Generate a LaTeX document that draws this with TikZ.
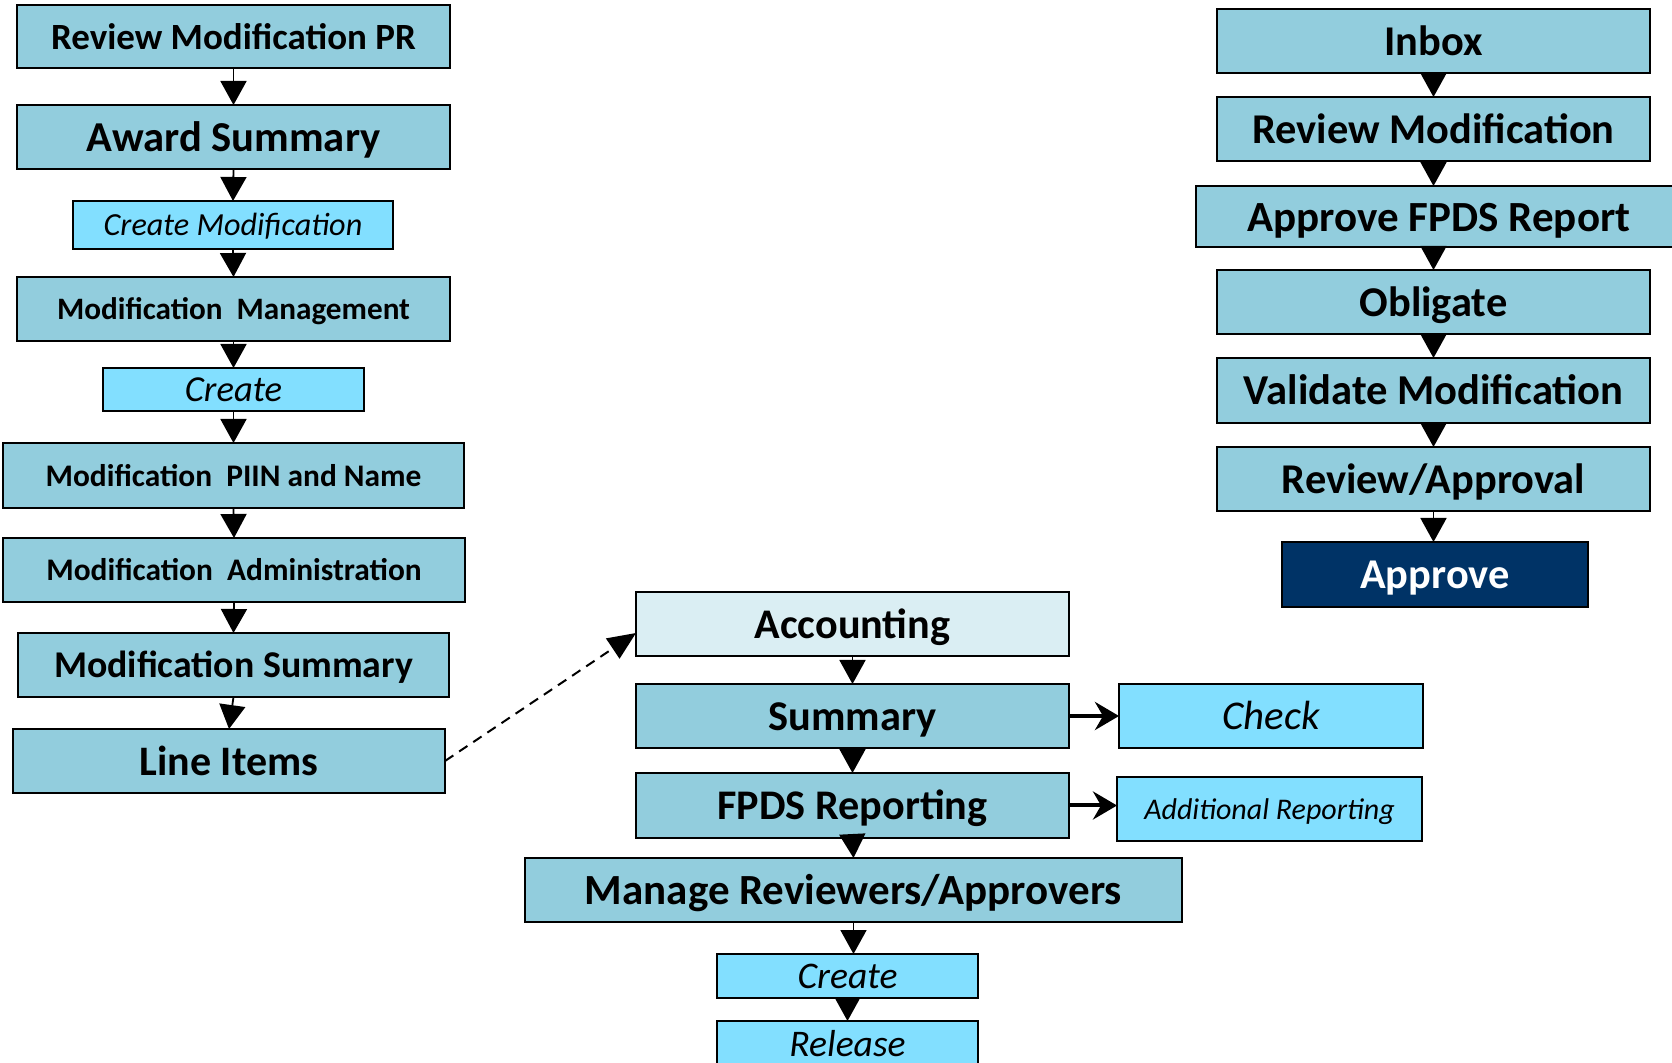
\documentclass[tikz,border=0pt]{standalone}
\usepackage{fontspec}
\setmainfont{Carlito}
\usetikzlibrary{arrows.meta}
\definecolor{mainc}{RGB}{146,205,221}
\definecolor{cyanc}{RGB}{130,223,255}
\definecolor{accc}{RGB}{218,238,243}
\definecolor{navyc}{RGB}{0,51,102}
\newcommand\fs[1]{\fontsize{#1}{#1}\selectfont}
\newcommand\T[1]{\rule{0pt}{0.68em}\smash{#1}}
\newcommand\bx[7]{\node[#6, minimum width={(#4-#2)*0.5pt}, minimum height={(#5-#3)*0.5pt}] (#1) at ({(#2+#4)/2},{(#3+#5)/2}) {\T{#7}};}
\begin{document}
\begin{tikzpicture}[x=0.5pt,y=-0.5pt,
  base/.style={draw=black, line width=1pt, inner sep=0pt, outer sep=0pt},
  mb/.style={base, fill=mainc, font=\fs{#1}\bfseries},
  lb/.style={base, fill=accc, font=\fs{#1}\bfseries},
  nb/.style={base, fill=navyc, text=white, font=\fs{#1}\bfseries},
  cb/.style={base, fill=cyanc, font=\fs{#1}\itshape},
  dn/.style={-{Triangle[width=13pt,length=12pt]}, line width=0.9pt},
  rt/.style={-{Stealth[length=12pt,width=14pt,inset=4pt]}, line width=2pt},
  dsh/.style={-{Triangle[width=12pt,length=14pt]}, line width=1pt, dash pattern=on 5pt off 3.5pt}]
\useasboundingbox (0,0) rectangle (1672,1063);
% left column
\bx{rmpr}{17}{5}{450}{68}{mb=18.5}{Review Modification PR}
\bx{award}{17}{105}{450}{169}{mb=21.3}{Award Summary}
\bx{cmod}{73}{201}{393}{249}{cb=16.1}{Create Modification}
\bx{mgmt}{17}{277}{450}{341}{mb=15.6}{Modification\ \ Management}
\bx{crone}{103}{368}{364}{411}{cb=18.3}{Create}
\bx{piin}{3}{443}{464}{508}{mb=15.7}{Modification\ \ PIIN and Name}
\bx{admin}{3}{538}{465}{602}{mb=15.7}{Modification\ \ Administration}
\bx{msum}{18}{633}{449}{697}{mb=18.9}{Modification Summary}
\bx{litems}{13}{729}{445}{793}{mb=21}{Line Items}
% middle column
\bx{acc}{636}{592}{1069}{656}{lb=21.1}{Accounting}
\bx{summ}{636}{684}{1069}{748}{mb=21.2}{Summary}
\bx{fpds}{636}{773}{1069}{838}{mb=21.1}{FPDS Reporting}
\bx{manage}{525}{858}{1182}{922}{mb=21.5}{Manage Reviewers/Approvers}
\bx{crtwo}{717}{954}{978}{998}{cb=18.8}{Create}
\bx{release}{717}{1021}{978}{1067}{cb=18.8}{Release}
\bx{check}{1119}{684}{1423}{748}{cb=20.4}{Check}
\bx{addrep}{1117}{777}{1422}{841}{cb=15}{Additional Reporting}
% right column
\bx{inbox}{1217}{9}{1650}{73}{mb=21.2}{Inbox}
\bx{revmod}{1217}{97}{1650}{161}{mb=21.2}{Review Modification}
\bx{apfpds}{1196}{186}{1682}{247}{mb=21.5}{Approve FPDS Report}
\bx{oblig}{1217}{270}{1650}{334}{mb=21.2}{Obligate}
\bx{valid}{1217}{358}{1650}{423}{mb=21.3}{Validate Modification}
\bx{revapp}{1217}{447}{1650}{511}{mb=21.2}{Review/Approval}
\bx{approve}{1282}{542}{1588}{607}{nb=21.2}{Approve}
% connectors left
\draw[dn] (rmpr.south) -- (award.north);
\draw[dn] (award.south) -- (cmod.north);
\draw[dn] (cmod.south) -- (mgmt.north);
\draw[dn] (mgmt.south) -- (crone.north);
\draw[dn] (crone.south) -- (piin.north);
\draw[dn] (piin.south) -- (admin.north);
\draw[dn] (admin.south) -- (msum.north);
\draw[dn] (msum.south) -- (litems.north);
\draw[dsh] (litems.east) -- ([yshift=-4.5pt]acc.west);
% connectors middle
\draw[dn] (acc.south) -- (summ.north);
\draw[dn] (summ.south) -- (fpds.north);
\draw[dn] (fpds.south) -- (manage.north);
\draw[dn] (manage.south) -- (manage.south |- crtwo.north);
\draw[dn] (crtwo.south) -- (release.north);
\draw[rt] (summ.east) -- (check.west);
\draw[rt] (fpds.east) -- (fpds.east -| addrep.west);
% connectors right
\draw[dn] (inbox.south) -- (revmod.north);
\draw[dn] (revmod.south) -- (revmod.south |- apfpds.north);
\draw[dn] (revmod.south |- apfpds.south) -- (oblig.north);
\draw[dn] (oblig.south) -- (valid.north);
\draw[dn] (valid.south) -- (revapp.north);
\draw[dn] (revapp.south) -- (revapp.south |- approve.north);
\end{tikzpicture}
\end{document}
